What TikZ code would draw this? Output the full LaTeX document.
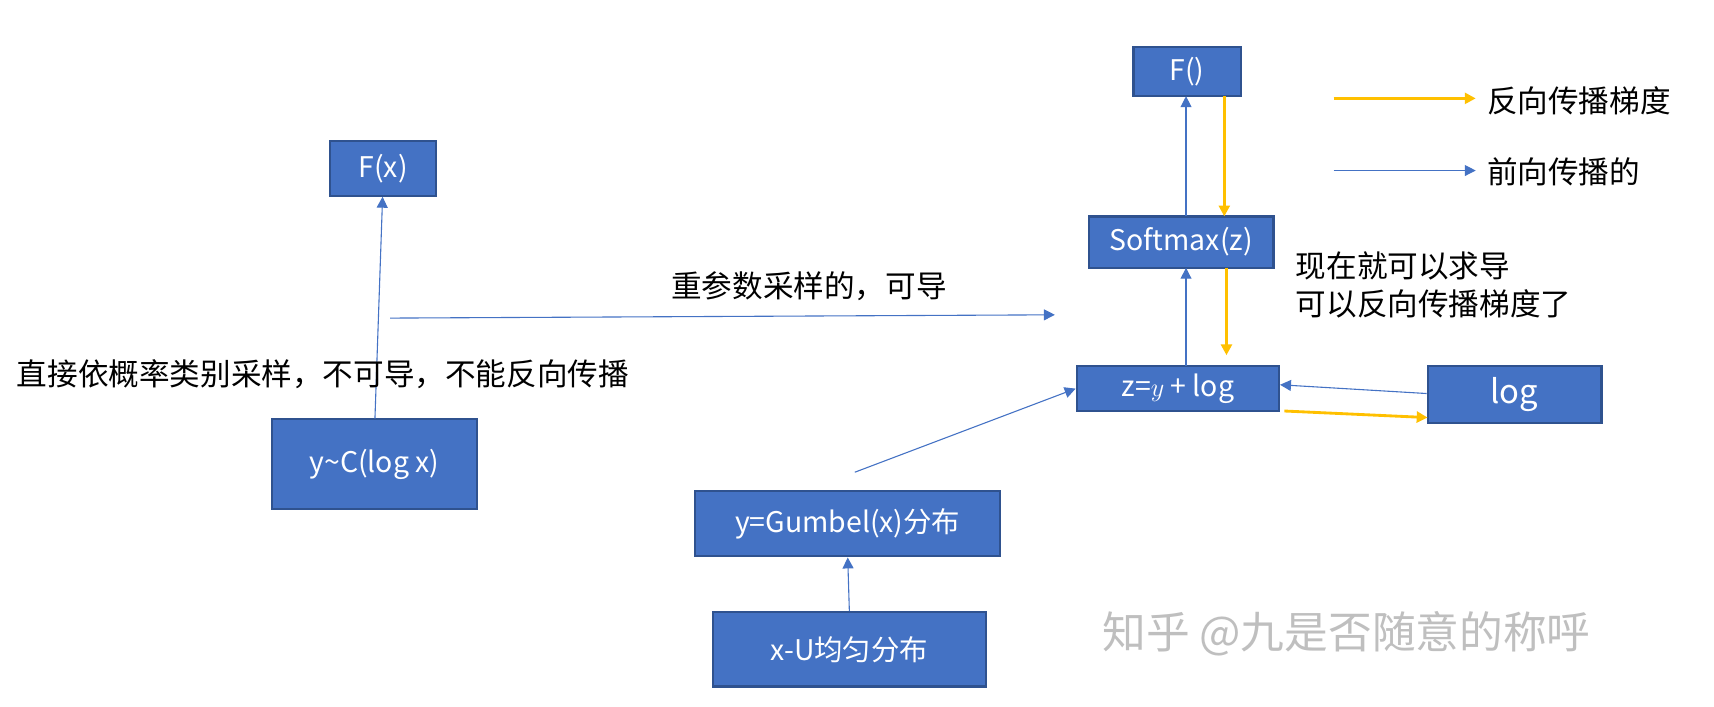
\documentclass[tikz,border=0pt]{standalone}
\usepackage{fontspec}
\setmainfont{Noto Sans CJK SC}
\usetikzlibrary{arrows.meta}
\definecolor{bx}{HTML}{4472C4}
\definecolor{bd}{HTML}{2F528F}
\definecolor{yl}{HTML}{FFC000}
\begin{document}
\begin{tikzpicture}[x=0.5pt,y=-0.5pt,
 box/.style={draw=bd,line width=1pt,fill=bx,text=white,inner sep=0,font=\fontsize{13}{15}\selectfont},
 fw/.style={-{Triangle[length=5pt,width=5pt]},draw=bx,line width=0.5pt},
 bw/.style={-{Triangle[length=5pt,width=5pt]},draw=yl,line width=1.3pt},
 lab/.style={font=\fontsize{14}{17}\selectfont,anchor=west,inner sep=0}]
\useasboundingbox (0,0) rectangle (1568,646);
\newcommand\bxat[5]{\node[box,minimum width={(#3-#2)*0.5pt},minimum height={(#5-#4)*0.5pt}] (#1) at ({(#2+#3)/2},{(#4+#5)/2})}
\bxat{fx}{302}{399}{129}{179} {F(x)};
\bxat{yc}{249}{436}{383}{466} {y\textasciitilde C(log x)};
\bxat{f}{1037}{1135}{43}{88} {F()};
\bxat{sm}{996}{1165}{198}{245} {Softmax(z)};
\bxat{z}{985}{1170}{335}{376} {z=$y$ + $\mathit{log}$};
\bxat{lg}{1306}{1465}{335}{387} {\fontsize{15}{17}\selectfont$\mathit{log}$};
\bxat{gb}{636}{915}{449}{509} {y=Gumbel(x)分布};
\bxat{xu}{652}{902}{560}{628} {x-U均匀分布};
\coordinate (a1) at (343,383); \coordinate (a2) at (350,180);
\draw[fw] (a1) -- (a2);
\coordinate (r1) at (357,291); \coordinate (r2) at (965,288);
\draw[fw] (r1) -- (r2);
\node[font=\fontsize{14}{17}\selectfont] (rl) at (740,262) {重参数采样的，可导};
\node[lab] (t1) at (15,342) {直接依概率类别采样，不可导，不能反向传播};
\draw[fw] (xu.north) -- (gb.south);
\coordinate (g1) at (782,432);
\draw[fw] (g1) -- (z.west);
\draw[fw] (lg.west |- 0,360) -- (z.east |- 0,352);
\draw[bw] (1175,376) -- (1306,382);
\draw[fw] (1085,335) -- (1085,245);
\draw[fw] (1085,198) -- (1085,88);
\draw[bw] (1120,88) -- (1120,198);
\draw[bw] (1122,245) -- (1122,325);
\draw[bw] (1220,90) -- (1350,90);
\draw[fw] (1220,156) -- (1350,156);
\node[lab] (l1) at (1360,92) {反向传播梯度};
\node[lab] (l2) at (1360,157) {前向传播的};
\node[lab] (t2) at (1185,243) {现在就可以求导};
\node[lab] (t3) at (1185,278) {可以反向传播梯度了};
\node[lab,font=\fontsize{20}{24}\selectfont,text=black!25] (wm) at (1008,580) {知乎 @九是否随意的称呼};
\end{tikzpicture}
\end{document}
